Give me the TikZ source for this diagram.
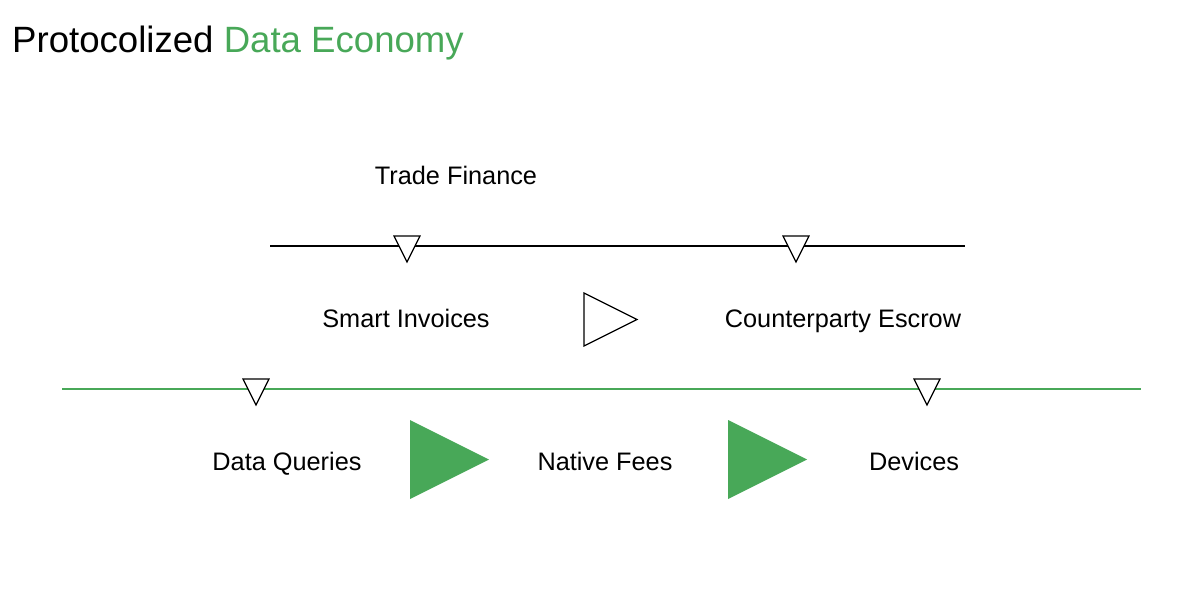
\documentclass[tikz,border=0pt]{standalone}
\usepackage{fontspec}
\setmainfont{Liberation Sans}
\definecolor{grn}{RGB}{72,168,88}
\begin{document}
\begin{tikzpicture}[x=1pt,y=-1pt,
  lbl/.style={font=\fontsize{25.3}{28}\selectfont,text=black,anchor=base,inner sep=0},
  tri/.style={draw=black,line width=1.2pt,fill=white,line join=miter},
  big/.style={fill=grn,draw=none}]
\useasboundingbox (0,0) rectangle (1200,602);
\node[anchor=base west,inner sep=0,font=\fontsize{36.6}{40}\selectfont] (title) at (12,53) {Protocolized \textcolor{grn}{Data Economy}};
% black line
\coordinate (b1) at (270,246); \coordinate (b2) at (965,246);
\draw[line width=1.2pt] (b1) -- (b2);
\draw[tri] (394,236) -- (420,236) -- (407,262) -- cycle;
\draw[tri] (783,236) -- (809,236) -- (796,262) -- cycle;
% green line
\coordinate (g1) at (62,389); \coordinate (g2) at (1141,389);
\draw[grn,line width=1.2pt] (g1) -- (g2);
\draw[tri] (243,379) -- (269,379) -- (256,405) -- cycle;
\draw[tri] (914,379) -- (940,379) -- (927,405) -- cycle;
% labels
\node[lbl] (tf) at (456,184) {Trade Finance};
\node[lbl] (si) at (406,327) {Smart Invoices};
\node[lbl] (ce) at (843,327) {Counterparty Escrow};
\node[lbl] (dq) at (287,470) {Data Queries};
\node[lbl] (nf) at (605,470) {Native Fees};
\node[lbl] (dv) at (914,470) {Devices};
% arrows
\draw[tri] (584,293) -- (584,346) -- (637,319.5) -- cycle;
\fill[big] (410,420) -- (410,499) -- (489,459.5) -- cycle;
\fill[big] (728,420) -- (728,499) -- (807,459.5) -- cycle;
\end{tikzpicture}
\end{document}
